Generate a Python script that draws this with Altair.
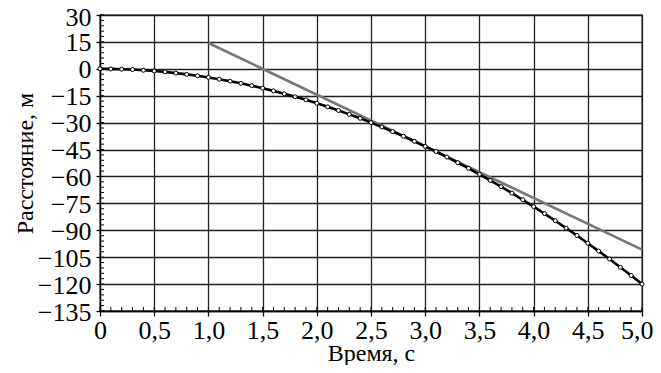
import altair as alt
import pandas as pd

# Curve: distance vs time
time_s = [0.0, 0.1, 0.2, 0.3, 0.4, 0.5, 0.6, 0.7, 0.8, 0.9,
          1.0, 1.1, 1.2, 1.3, 1.4, 1.5, 1.6, 1.7, 1.8, 1.9,
          2.0, 2.1, 2.2, 2.3, 2.4, 2.5, 2.6, 2.7, 2.8, 2.9,
          3.0, 3.1, 3.2, 3.3, 3.4, 3.5, 3.6, 3.7, 3.8, 3.9,
          4.0, 4.1, 4.2, 4.3, 4.4, 4.5, 4.6, 4.7, 4.8, 4.9, 5.0]
distance_m = [0.0, -0.05, -0.2, -0.4, -0.8, -1.2, -1.7, -2.4, -3.1, -3.9,
              -4.8, -5.8, -6.9, -8.1, -9.4, -10.8, -12.3, -13.9, -15.6, -17.3,
              -19.2, -21.2, -23.2, -25.4, -27.6, -30.0, -32.4, -35.0, -37.6, -40.4,
              -43.2, -46.1, -49.2, -52.3, -55.5, -58.8, -62.2, -65.7, -69.3, -73.0,
              -76.8, -80.7, -84.7, -88.8, -92.9, -97.2, -101.6, -106.0, -110.6, -115.2, -120.0]

# Tangent line end points
tangent_t = [1.0, 5.0]
tangent_d = [14.4, -100.8]

x_ticks = [0.0, 0.5, 1.0, 1.5, 2.0, 2.5, 3.0, 3.5, 4.0, 4.5, 5.0]
y_ticks = [30, 15, 0, -15, -30, -45, -60, -75, -90, -105, -120, -135]
x_minor = [i / 10 for i in range(0, 51)]
y_minor = list(range(-135, 31, 3))

W, H = 542, 296
FONT = "Liberation Serif"
LFS = 26
TFS = 24

curve = pd.DataFrame({"t": time_s, "d": distance_m})
tang = pd.DataFrame({"t": tangent_t, "d": tangent_d})

xscale = alt.Scale(domain=[0, 5], nice=False, zero=False)
yscale = alt.Scale(domain=[-135, 30], nice=False, zero=False)

xaxis = alt.Axis(
    values=x_ticks, grid=True, gridColor="#222222", gridWidth=1.3,
    domainColor="black", domainWidth=1.3, tickColor="black", tickSize=5, tickWidth=1.3,
    labelFont=FONT, labelFontSize=LFS, labelColor="black", labelPadding=1,
    labelExpr="datum.value == 0 ? '0' : replace(format(datum.value, '.1f'), '.', ',')",
    labelAlign={"condition": {"test": "datum.value == 5", "value": "right"}, "value": "center"},
    labelOffset={"condition": {"test": "datum.value == 5", "value": 11}, "value": 0},
    labelFlush=False, labelOverlap=False,
    title="Время, с", titleFont=FONT, titleFontSize=TFS, titleFontWeight="normal",
    titleColor="black", titleX=W / 2, titleY=49, titleBaseline="alphabetic",
    titleAlign="center",
)
yaxis = alt.Axis(
    values=y_ticks, grid=True, gridColor="#222222", gridWidth=1.3,
    domainColor="black", domainWidth=1.3, tickColor="black", tickSize=4, tickWidth=1.3,
    labelFont=FONT, labelFontSize=LFS, labelColor="black", labelPadding=5,
    labelOffset={"condition": {"test": "datum.value == 30", "value": 2.5}, "value": 1},
    labelExpr="replace(format(datum.value, 'd'), '-', '\u2212')",
    labelFlush=False, labelOverlap=False,
    title="Расстояние, м", titleFont=FONT, titleFontSize=TFS, titleFontWeight="normal",
    titleColor="black", titleX=-68, titleY=H / 2, titleAngle=270,
    titleBaseline="alphabetic", titleAlign="center",
)

X = lambda f: alt.X(f, type="quantitative", scale=xscale, axis=xaxis)
Y = lambda f: alt.Y(f, type="quantitative", scale=yscale, axis=yaxis)

base_line = alt.Chart(curve).mark_line(color="black", strokeWidth=2.6).encode(
    x=X("t"), y=Y("d"),
)
tangent = alt.Chart(tang).mark_line(color="#777777", strokeWidth=2.6).encode(
    x=X("t"), y=Y("d")
)
points = alt.Chart(curve).mark_point(
    shape="circle", filled=True, fill="white", stroke="black", strokeWidth=1, size=16, opacity=1
).encode(x=X("t"), y=Y("d"))

xm = alt.Chart(pd.DataFrame({"t": x_minor})).mark_rule(color="black", strokeWidth=1).encode(
    x=X("t"), y=alt.value(H), y2=alt.value(H - 4)
)
ym = alt.Chart(pd.DataFrame({"d": y_minor})).mark_rule(color="black", strokeWidth=1).encode(
    y=Y("d"), x=alt.value(0), x2=alt.value(4)
)

chart = alt.layer(xm, ym, tangent, base_line, points).properties(
    width=W, height=H,
    autosize=alt.AutoSizeParams(type="none"),
    padding={"left": 92, "top": 7, "right": 11, "bottom": 54},
    background="white",
).configure_view(stroke="black", strokeWidth=1.3)

chart.save("out.html", embed_options={"renderer": "svg", "actions": False})
